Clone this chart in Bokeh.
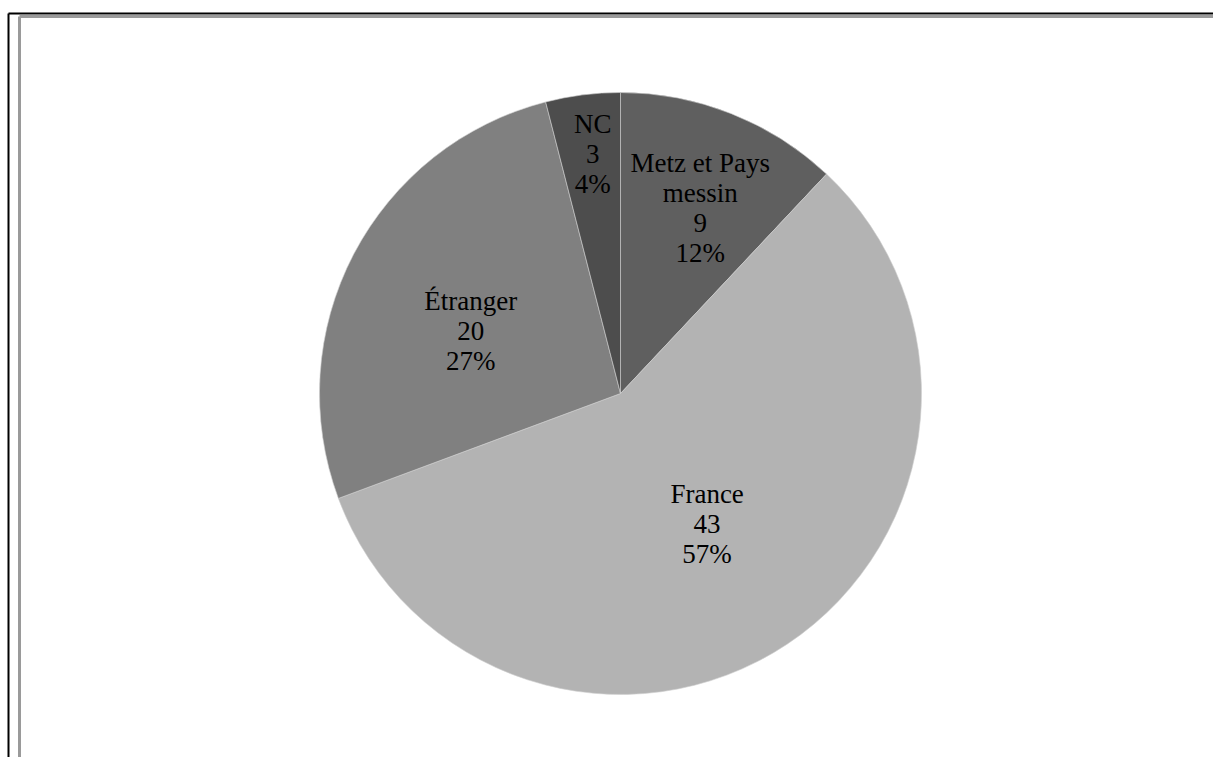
import math
import textwrap
from bokeh.plotting import figure
from bokeh.models import Range1d, ColumnDataSource
from bokeh.core.properties import value
from bokeh.embed import file_html
from bokeh.resources import INLINE

# ---- data ----
categories = ["Metz et Pays messin", "France", "Étranger", "NC"]
counts = [9, 43, 20, 3]
colors = ["#5f5f5f", "#b3b3b3", "#808080", "#4d4d4d"]
# label placement (style): fraction of radius, angular nudge in degrees
label_radius_frac = [0.67, 0.52, 0.54, 0.80]
label_angle_nudge = [1.7, 0.0, -4.8, 0.6]

W, H = 1213, 757
cx, cy_screen, R = 620, 393, 301
cy = H - cy_screen

total = sum(counts)
starts, ends, lx, ly, texts = [], [], [], [], []
cum = 0.0
for cat, v, f, nd in zip(categories, counts, label_radius_frac, label_angle_nudge):
    a0 = cum / total * 2 * math.pi
    cum += v
    a1 = cum / total * 2 * math.pi
    # clockwise from 12 o'clock
    starts.append(math.pi / 2 - a1)
    ends.append(math.pi / 2 - a0)
    mid = (a0 + a1) / 2 + math.radians(nd)
    lx.append(cx + f * R * math.sin(mid))
    ly.append(cy + f * R * math.cos(mid))
    pct = round(v / total * 100)
    texts.append(textwrap.fill(cat, 12) + "\n" + str(v) + "\n" + f"{pct}%")

src = ColumnDataSource(dict(start=starts, end=ends, color=colors,
                            x=[cx] * len(counts), y=[cy] * len(counts)))
lsrc = ColumnDataSource(dict(x=lx, y=ly, text=texts))

p = figure(width=W, height=H, output_backend="svg", toolbar_location=None,
           x_range=Range1d(0, W), y_range=Range1d(0, H), min_border=0)
p.axis.visible = False
p.grid.visible = False
p.outline_line_color = None
p.background_fill_color = "white"
p.border_fill_color = "white"

# frame decorations (outer black border, inner grey border)
p.segment(x0=[8, 8], y0=[0, H - 13], x1=[8, W], y1=[H - 13, H - 13],
          line_color="black", line_width=2)
p.segment(x0=[19, 19], y0=[0, H - 16], x1=[19, W], y1=[H - 16, H - 16],
          line_color="#9a9a9a", line_width=3)

p.wedge(x="x", y="y", radius=R, start_angle="start", end_angle="end",
        fill_color="color", line_color="#d0d0d0", line_width=0.6, source=src)

p.text(x="x", y="y", text="text", source=lsrc, text_align="center",
       text_baseline="middle", text_font=value("Liberation Serif"),
       text_font_size="27px", text_color="black", text_line_height=1.0)

open("out.html", "w").write(file_html(p, INLINE))
